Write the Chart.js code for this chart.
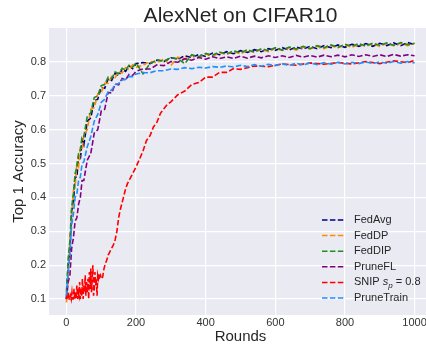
<!DOCTYPE html>
<html>
<head>
<meta charset="utf-8">
<script src="https://cdn.jsdelivr.net/npm/chart.js@4.4.0/dist/chart.umd.min.js"></script>
<style>
  html, body { margin: 0; padding: 0; background: #fff; overflow: hidden; }
  #wrap { width: 426px; height: 345px; overflow: hidden; }
</style>
</head>
<body>
<div id="wrap"><canvas id="chart" width="440" height="345"></canvas></div>
<script>
// rounds shared by the 5 smoother series
const rounds = [0, 5, 10, 15, 20, 25, 30, 35, 40, 45, 50, 60, 70, 80, 90, 100, 110, 120, 130, 140, 150, 160, 170, 180, 190, 200,
  220, 240, 260, 280, 300, 320, 340, 360, 380, 400, 420, 440, 460, 480, 500, 520, 540, 560, 580, 600,
  620, 640, 660, 680, 700, 720, 740, 760, 780, 800, 820, 840, 860, 880, 900, 920, 940, 960, 980, 1000];

const fedAvg = [0.10, 0.20, 0.24, 0.36, 0.38, 0.46, 0.46, 0.52, 0.51, 0.57, 0.555, 0.625, 0.635, 0.685, 0.69, 0.725, 0.722, 0.75, 0.745, 0.767, 0.759, 0.778, 0.772, 0.788, 0.780, 0.795,
  0.798, 0.795, 0.805, 0.801, 0.812, 0.808, 0.818, 0.813, 0.822, 0.816, 0.826, 0.821, 0.830, 0.824, 0.833, 0.828, 0.836, 0.830, 0.839, 0.834,
  0.842, 0.835, 0.844, 0.838, 0.846, 0.839, 0.848, 0.842, 0.850, 0.843, 0.852, 0.846, 0.854, 0.846, 0.855, 0.848, 0.856, 0.848, 0.857, 0.851];

const fedDP = [0.09, 0.16, 0.28, 0.32, 0.42, 0.43, 0.50, 0.49, 0.545, 0.54, 0.585, 0.60, 0.66, 0.665, 0.705, 0.708, 0.737, 0.737, 0.757, 0.754, 0.771, 0.767, 0.783, 0.777, 0.791, 0.784,
  0.790, 0.801, 0.798, 0.808, 0.789, 0.814, 0.809, 0.819, 0.814, 0.823, 0.817, 0.827, 0.822, 0.831, 0.824, 0.834, 0.828, 0.837, 0.830, 0.840,
  0.834, 0.842, 0.835, 0.844, 0.838, 0.846, 0.839, 0.848, 0.842, 0.850, 0.843, 0.852, 0.846, 0.853, 0.846, 0.854, 0.848, 0.855, 0.848, 0.854];

const fedDIP = [0.12, 0.22, 0.27, 0.37, 0.41, 0.47, 0.49, 0.53, 0.54, 0.58, 0.58, 0.64, 0.65, 0.695, 0.70, 0.73, 0.733, 0.755, 0.751, 0.77, 0.766, 0.781, 0.776, 0.79, 0.784, 0.797,
  0.765, 0.795, 0.806, 0.802, 0.813, 0.809, 0.795, 0.821, 0.815, 0.825, 0.820, 0.829, 0.823, 0.833, 0.827, 0.836, 0.829, 0.839, 0.833, 0.842,
  0.835, 0.844, 0.838, 0.846, 0.839, 0.848, 0.842, 0.850, 0.843, 0.852, 0.846, 0.854, 0.847, 0.855, 0.849, 0.856, 0.849, 0.857, 0.851, 0.855];

const pruneFL = [0.10, 0.15, 0.17, 0.25, 0.28, 0.33, 0.34, 0.38, 0.40, 0.45, 0.45, 0.51, 0.53, 0.59, 0.60, 0.655, 0.66, 0.71, 0.708, 0.735, 0.732, 0.751, 0.747, 0.763, 0.760, 0.772,
  0.779, 0.779, 0.791, 0.789, 0.801, 0.799, 0.809, 0.805, 0.813, 0.808, 0.815, 0.810, 0.815, 0.810, 0.817, 0.811, 0.817, 0.812, 0.818, 0.813,
  0.818, 0.813, 0.819, 0.814, 0.819, 0.814, 0.820, 0.815, 0.820, 0.815, 0.821, 0.816, 0.821, 0.816, 0.821, 0.816, 0.822, 0.817, 0.821, 0.818];

const pruneTrain = [0.11, 0.18, 0.23, 0.32, 0.35, 0.40, 0.41, 0.45, 0.46, 0.50, 0.505, 0.55, 0.58, 0.625, 0.645, 0.68, 0.69, 0.712, 0.717, 0.733, 0.736, 0.747, 0.748, 0.757, 0.756, 0.764,
  0.768, 0.768, 0.774, 0.774, 0.779, 0.778, 0.783, 0.780, 0.784, 0.782, 0.786, 0.784, 0.788, 0.785, 0.790, 0.786, 0.792, 0.787, 0.793, 0.789,
  0.794, 0.790, 0.796, 0.791, 0.797, 0.792, 0.798, 0.793, 0.799, 0.794, 0.799, 0.795, 0.800, 0.795, 0.800, 0.796, 0.801, 0.796, 0.801, 0.797];

// SNIP is noisy at the start, so it has its own rounds
const snipRounds = [0, 2, 4, 6, 8, 10, 12, 14, 16, 18, 20, 22, 24, 26, 28, 30, 32, 34, 36, 38, 40, 42, 44, 46, 48, 50,
  52, 54, 56, 58, 60, 62, 64, 66, 68, 70, 72, 74, 76, 78, 80, 82, 84, 86, 88, 90, 92, 94, 96, 98, 100,
  104, 108, 112, 116, 120, 125, 130, 135, 140, 145, 150, 155, 160, 165, 170, 175, 180, 185, 190, 195, 200,
  210, 220, 230, 240, 250, 260, 270, 280, 290, 300, 320, 340, 360, 380, 400, 420, 440, 460, 480, 500,
  540, 580, 620, 660, 700, 740, 780, 820, 860, 900, 940, 980, 1000];
const snip = [0.10, 0.11, 0.10, 0.12, 0.10, 0.10, 0.11, 0.10, 0.12, 0.10, 0.10, 0.13, 0.10, 0.11, 0.10, 0.14, 0.10, 0.12, 0.11, 0.15, 0.10, 0.13, 0.11, 0.16, 0.10, 0.14,
  0.12, 0.17, 0.11, 0.15, 0.12, 0.16, 0.10, 0.18, 0.13, 0.19, 0.12, 0.16, 0.20, 0.11, 0.13, 0.18, 0.14, 0.16, 0.11, 0.17, 0.16, 0.175, 0.165, 0.17, 0.16,
  0.165, 0.19, 0.205, 0.215, 0.23, 0.24, 0.25, 0.26, 0.275, 0.30, 0.34, 0.365, 0.385, 0.405, 0.425, 0.44, 0.45, 0.46, 0.47, 0.48, 0.49,
  0.513, 0.537, 0.568, 0.582, 0.608, 0.622, 0.648, 0.662, 0.675, 0.682, 0.703, 0.714, 0.733, 0.739, 0.755, 0.755, 0.769, 0.769, 0.780, 0.778,
  0.788, 0.786, 0.794, 0.790, 0.797, 0.793, 0.798, 0.794, 0.801, 0.795, 0.803, 0.798, 0.804];

const seriesNames = ["FedAvg", "FedDP", "FedDIP", "PruneFL", "SNIP", "PruneTrain"];
const seriesColors = ["#000080", "#FF8C00", "#228B22", "#800080", "#FF0000", "#1E90FF"];
const xTicks = [0, 200, 400, 600, 800, 1000];
const yTicks = [0.1, 0.2, 0.3, 0.4, 0.5, 0.6, 0.7, 0.8];

const FONT = "'Liberation Sans', Arial, sans-serif";
const DASH = [5.5, 2.4];

const toPoints = (xs, ys) => xs.map((x, i) => ({x: x, y: ys[i]}));
const seriesData = [
  toPoints(rounds, fedAvg),
  toPoints(rounds, fedDP),
  toPoints(rounds, fedDIP),
  toPoints(rounds, pruneFL),
  toPoints(snipRounds, snip),
  toPoints(rounds, pruneTrain),
];

// gray seaborn background
const bgPlugin = {
  id: "bg",
  beforeDraw(chart) {
    const {ctx, chartArea: a} = chart;
    ctx.save();
    ctx.fillStyle = "#EAEAF2";
    ctx.fillRect(a.left, a.top, a.right - a.left, a.bottom - a.top);
    ctx.restore();
  },
};

// title centred over the plot area + legend inside bottom right
const textPlugin = {
  id: "texts",
  afterDraw(chart) {
    const {ctx, chartArea: a} = chart;
    ctx.save();
    ctx.fillStyle = "#262626";
    ctx.font = "21px " + FONT;
    ctx.textAlign = "center";
    ctx.textBaseline = "middle";
    ctx.fillText("AlexNet on CIFAR10", (a.left + a.right) / 2, 16);

    ctx.textAlign = "left";
    seriesNames.forEach((name, i) => {
      const y = 220 + i * 15.6;
      ctx.strokeStyle = seriesColors[i];
      ctx.lineWidth = 1.5;
      ctx.setLineDash(DASH);
      ctx.beginPath();
      ctx.moveTo(322, y);
      ctx.lineTo(345, y);
      ctx.stroke();
      ctx.setLineDash([]);
      ctx.fillStyle = "#262626";
      ctx.font = "11px " + FONT;
      let x = 354;
      if (name === "SNIP") {
        ctx.fillText("SNIP ", x, y);
        x += ctx.measureText("SNIP ").width;
        ctx.font = "italic 11px " + FONT;
        ctx.fillText("s", x, y);
        x += ctx.measureText("s").width;
        ctx.font = "italic 8px " + FONT;
        ctx.fillText("p", x, y + 3);
        x += ctx.measureText("p").width;
        ctx.font = "11px " + FONT;
        ctx.fillText(" = 0.8", x, y);
      } else {
        ctx.fillText(name, x, y);
      }
    });
    ctx.restore();
  },
};

new Chart(document.getElementById("chart"), {
  type: "line",
  data: {
    datasets: seriesData.map((d, i) => ({
      label: seriesNames[i],
      data: d,
      borderColor: seriesColors[i],
      backgroundColor: seriesColors[i],
      borderWidth: 1.6,
      borderDash: DASH,
      pointRadius: 0,
      tension: 0,
      fill: false,
      order: seriesNames.length - i,
    })),
  },
  options: {
    responsive: false,
    animation: false,
    events: [],
    layout: {padding: {top: 28, right: 8, left: 0, bottom: 0}},
    plugins: {legend: {display: false}, tooltip: {enabled: false}},
    scales: {
      x: {
        type: "linear",
        min: -50,
        max: 1050,
        afterBuildTicks: (s) => {
          s.ticks = xTicks.map((v) => ({value: v}));
        },
        afterFit: (s) => {
          s.height = 30;
        },
        grid: {color: "#fff", lineWidth: 1.2, drawTicks: false},
        border: {display: false},
        ticks: {
          padding: 1,
          maxRotation: 0,
          color: "#333",
          font: {family: FONT, size: 11},
          callback: (v) => String(v),
        },
        title: {display: true, text: "Rounds", color: "#262626", font: {family: FONT, size: 15, lineHeight: 1.1}, padding: {top: 0, bottom: 0}},
      },
      y: {
        min: 0.053,
        max: 0.9,
        afterBuildTicks: (s) => {
          s.ticks = yTicks.map((v) => ({value: v}));
        },
        afterFit: (s) => {
          s.width = 49;
        },
        grid: {color: "#fff", lineWidth: 1.2, drawTicks: false},
        border: {display: false},
        ticks: {
          padding: 3,
          color: "#333",
          font: {family: FONT, size: 11},
          callback: (v) => v.toFixed(1),
        },
        title: {display: true, text: "Top 1 Accuracy", color: "#262626", font: {family: FONT, size: 15}, padding: {top: 10, bottom: 0}},
      },
    },
  },
  plugins: [bgPlugin, textPlugin],
});
</script>
</body>
</html>
